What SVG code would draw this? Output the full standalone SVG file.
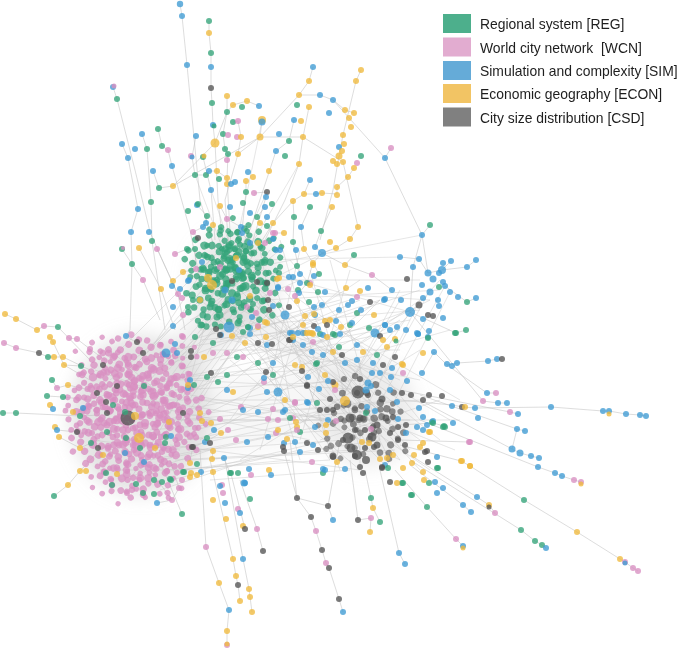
<svg xmlns="http://www.w3.org/2000/svg" xmlns:xlink="http://www.w3.org/1999/xlink" width="685" height="650" viewBox="0 0 685 650">
<style>
.e{fill:none;stroke:#c2c2c2;stroke-width:.7;stroke-opacity:.8}
.em{fill:none;stroke:#c4c4c4;stroke-width:.6;stroke-opacity:.7}
circle{stroke:none;fill-opacity:.78}
.g{fill:#34a47a}.p{fill:#d98fc2}.b{fill:#3f9bd3}.y{fill:#f0ba3e}.k{fill:#555}
.haze{fill:#c8c8c8}
.lt{font-family:"Liberation Sans",Arial,sans-serif;font-size:13.9px;fill:#1e1e1e}
</style>
<defs>
<filter id="soft" x="-50%" y="-50%" width="200%" height="200%"><feGaussianBlur stdDeviation="9"/></filter>
<g id="blob">
<circle cx="-25" cy="-5" r="3.6"/><circle cx="-20" cy="-15" r="3.2"/><circle cx="-18" cy="5" r="4.2"/><circle cx="-15" cy="-25" r="3.4"/>
<circle cx="-12" cy="15" r="3.8"/><circle cx="-10" cy="-8" r="3.2"/><circle cx="-8" cy="25" r="3.6"/><circle cx="-5" cy="-18" r="4"/>
<circle cx="-3" cy="5" r="3.4"/><circle cx="0" cy="-28" r="3.2"/><circle cx="2" cy="18" r="3.8"/><circle cx="4" cy="-6" r="3.5"/>
<circle cx="6" cy="28" r="3.2"/><circle cx="8" cy="-20" r="3.7"/><circle cx="10" cy="8" r="4.1"/><circle cx="12" cy="-12" r="3.3"/>
<circle cx="14" cy="20" r="3.5"/><circle cx="16" cy="-2" r="3.9"/><circle cx="18" cy="-24" r="3.2"/><circle cx="20" cy="12" r="3.6"/>
<circle cx="22" cy="-10" r="3.4"/><circle cx="24" cy="3" r="3.8"/><circle cx="26" cy="22" r="3.2"/><circle cx="-28" cy="10" r="3.5"/>
<circle cx="-22" cy="22" r="3.3"/><circle cx="-14" cy="-2" r="4"/><circle cx="-6" cy="-30" r="3.2"/><circle cx="0" cy="-10" r="3.6"/>
<circle cx="5" cy="10" r="3.4"/><circle cx="-2" cy="30" r="3.2"/><circle cx="28" cy="-15" r="3.4"/><circle cx="15" cy="30" r="3.3"/>
<circle cx="-26" cy="-20" r="3.2"/><circle cx="-16" cy="30" r="3.4"/><circle cx="9" cy="-30" r="3.3"/><circle cx="30" cy="5" r="3.5"/>
<circle cx="-30" cy="-8" r="3.2"/><circle cx="-4" cy="-12" r="3.8"/><circle cx="7" cy="0" r="3.6"/><circle cx="-9" cy="10" r="3.5"/>
</g>
<g id="sparse">
<circle cx="-25" cy="-5" r="3.6"/><circle cx="-18" cy="5" r="4.2"/><circle cx="-15" cy="-25" r="3.4"/><circle cx="-10" cy="-8" r="3.2"/>
<circle cx="-8" cy="25" r="3.6"/><circle cx="-3" cy="5" r="3.4"/><circle cx="2" cy="18" r="3.8"/><circle cx="8" cy="-20" r="3.7"/>
<circle cx="12" cy="-12" r="3.3"/><circle cx="16" cy="-2" r="3.9"/><circle cx="20" cy="12" r="3.6"/><circle cx="24" cy="3" r="3.8"/>
<circle cx="-28" cy="10" r="3.5"/><circle cx="-22" cy="22" r="3.3"/><circle cx="0" cy="-10" r="3.6"/><circle cx="28" cy="-15" r="3.4"/>
<circle cx="15" cy="30" r="3.3"/><circle cx="-26" cy="-20" r="3.2"/><circle cx="30" cy="5" r="3.5"/><circle cx="-9" cy="10" r="3.5"/>
</g>
</defs>

<g id="haze" filter="url(#soft)">
<ellipse class="haze" cx="140" cy="415" rx="70" ry="80" opacity=".5"/>
<ellipse class="haze" cx="235" cy="280" rx="45" ry="50" opacity=".4"/>
<ellipse class="haze" cx="368" cy="412" rx="48" ry="55" opacity=".35"/>
<path class="haze" d="M160 350 L215 300 L260 315 L200 380 Z" opacity=".35"/>
<path class="haze" d="M190 380 L330 370 L340 440 L195 460 Z" opacity=".15"/>
<path class="haze" d="M250 300 L350 360 L330 390 L240 330 Z" opacity=".22"/>
</g>

<g id="connectors">
<path class="e" d="M180 4 L182 16 L187 65 L200 200 L215 250 M209 21 L209 33 L211 53 L211 67 L211 88 L212 103 L213 125 L215 143 L218 200 L225 260
M113 87 L117 99 L135 170 L150 232 L180 300 M122 144 L128 158 L138 209 L131 232 L132 264 L130 330 M142 134 L147 149 L151 202 L152 241 L165 330
M158 129 L162 146 L168 150 L172 166 L190 230 L200 280 M153 171 L159 188 L173 186 L215 143 M173 186 L260 137 M259 106 L247 101 L233 105 L227 112 L215 143
M313 67 L309 81 L299 95 L260 137 M299 95 L320 95 L333 100 L345 110 L354 113 M333 100 L385 158 L422 235 M391 148 L385 158 M361 70 L356 81 L343 135 L339 156 L333 190 L320 240
M309 107 L303 137 L299 164 L285 200 L260 250 M294 120 L289 141 L276 151 L250 230 M262 121 L260 137 L238 154 L225 200 L230 260 M260 137 L303 137 L343 162 L358 227
M227 96 L227 112 L223 134 L225 149 L228 154 L227 178 L231 250 M233 122 L238 121 L241 137 L238 154 M196 136 L192 157 L195 175 L206 175 L209 171 L217 171 L227 178
M203 157 L211 190 L215 240 M246 181 L246 192 L240 250 M254 193 L267 192 L266 197 L250 250 M304 194 L316 194 L322 193 L337 194 L337 187 L348 177 L354 168
M310 180 L304 194 L293 201 L273 223 L250 260 M122 249 L132 264 L143 280 L160 320 M139 248 L161 289 L175 330 M157 249 L172 281 L178 294 L185 330
M175 254 L187 249 L195 249 L196 269 L183 272 L173 281 M197 205 L207 216 L206 223 L203 227 L193 232 L198 238 M220 206 L227 219 L241 227 L242 233 L250 243
M265 207 L257 217 L260 223 L267 226 L273 233 L284 233 M293 201 L294 217 L293 242 L300 274 M310 207 L301 227 L304 249 L313 263 L319 274
M332 207 L321 231 L315 247 L322 253 L336 248 L350 239 L358 227 M322 253 L345 265 L354 255 M322 253 L313 263 L307 283 L299 293 M345 265 L372 275 L392 290
M422 235 L430 225 M422 235 L413 267 L410 312 M422 235 L428 273 M400 257 L419 259 L428 273 L442 270 L451 261 M442 270 L467 267 L476 260
M445 286 L467 302 L476 298 M410 312 L456 333 L466 330 M422 373 L434 352 L447 365 L457 363 L488 361 L497 359 L502 359 M447 365 L487 393 L496 393
M410 312 L483 401 L498 403 L507 403 M400 400 L452 405 L463 407 L475 408 L551 407 L603 411 L609 411 L626 414 L640 415 L646 416 M400 390 L510 412 L518 414
M420 395 L517 429 L525 431 M517 429 L512 449 L520 453 L531 456 L539 458 M420 400 L512 449 M420 420 L538 467 L555 473 L562 476 L574 480 L581 482
M400 425 L433 423 L444 426 M400 440 L469 442 M400 445 L461 461 L470 466 L524 500 L577 532 L620 559 L625 562 L633 568 L638 571
M410 455 L477 497 L489 505 L495 513 M410 460 L521 530 L535 541 L542 545 L546 548 M410 465 L463 505 L471 512 M395 470 L427 507 L456 539 L463 546 M380 470 L399 553 L405 564
M200 450 L206 547 L219 583 L229 610 L227 631 L227 645 M210 460 L233 559 L236 576 L238 585 L240 601 M225 460 L243 559 L249 589 L250 597 L252 612 M230 470 L245 529
M240 480 L257 529 L263 551 M290 440 L297 498 L311 517 L316 531 L322 550 L326 563 L329 568 L339 599 L343 612 M340 440 L328 506 L333 520 M350 460 L358 520 L371 518 L370 532
M365 470 L371 498 L373 508 L380 522 M155 450 L182 514 M150 470 L172 500 L157 503 M170 460 L179 488 L172 500 M297 498 L328 506 M284 451 L297 498
M5 314 L16 319 L37 330 L44 326 L58 327 L90 360 M4 343 L16 348 L39 353 L48 357 L63 357 L90 370 M3 413 L16 413 L80 416 L100 415 M50 337 L53 342 L64 365 L90 380
M47 396 L63 397 L90 400 M55 427 L57 430 L77 432 L92 433 M54 496 L68 485 L80 471 L95 455 M69 338 L77 339 L90 349 L105 360 M52 380 L57 388 L68 385 L90 390
M59 437 L80 448 L91 443 L100 440 M81 366 L64 365 M130 330 L126 336 L137 343 M221 433 L205 442 L193 447 L190 460 M213 451 L212 459 L224 458 L230 473"/>
<path class="em" d="M150 380 L230 290 M160 370 L240 300 M170 390 L250 280 M140 360 L220 270 M175 360 L260 300 M180 400 L245 320 M165 420 L235 310 M190 380 L225 250
M150 350 L210 260 M185 350 L255 260 M130 370 L200 300 M195 410 L270 290 M160 440 L240 330 M175 430 L262 310 M145 395 L215 320 M120 350 L230 240 M110 380 L240 270
M190 360 L270 250 M200 390 L280 300 M140 420 L225 300 M160 400 L350 400 M170 420 L360 420 M180 440 L340 430 M190 380 L370 390 M175 460 L355 450 M150 430 L380 410
M185 410 L330 380 M195 450 L345 440 M165 470 L330 460 M190 395 L390 430 M180 420 L400 400 M170 445 L360 470 M160 380 L340 360 M195 430 L320 400 M185 470 L380 440
M175 390 L365 380 M190 460 L395 450 M150 460 L300 430 M200 420 L410 420 M170 410 L310 440 M180 380 L300 370 M190 440 L370 400 M160 460 L350 420 M200 400 L330 420
M190 390 L410 310 M180 370 L420 290 M195 420 L430 300 M170 380 L400 330 M240 300 L350 390 M250 320 L360 400 M230 310 L340 420 M260 290 L370 380 M270 300 L380 410
M250 280 L360 430 M220 320 L350 440 M265 315 L390 420 M245 295 L330 380 M235 330 L345 410 M275 280 L375 395 M255 305 L400 400 M240 280 L365 440 M225 300 L355 375
M250 280 L420 280 M260 270 L410 312 M270 290 L430 300 M255 260 L400 257 M265 300 L440 290 M240 270 L422 235 M360 390 L410 312 M370 400 L430 290 M380 380 L420 300
M350 380 L440 280 M390 410 L450 292 M340 400 L400 300 M370 420 L445 286 M210 260 L250 300 M220 250 L240 320 M200 280 L260 270 M230 245 L211 190 M225 255 L195 175
M240 250 L267 192 M245 255 L299 164 M235 250 L262 121 M200 340 L310 330 M210 320 L300 280 M180 330 L280 250 M190 320 L330 250 M220 340 L350 300 M260 340 L380 300
M280 330 L400 380 M300 300 L380 360 M170 480 L300 450 M160 490 L250 460 M120 480 L210 450 M100 470 L190 470 M90 440 L180 450 M85 400 L170 380 M95 370 L180 400
M110 350 L190 420 M100 390 L180 360 M130 480 L190 380 M310 360 L420 440 M300 380 L430 470 M280 400 L400 460 M330 350 L450 420 M340 330 L460 400 M350 350 L420 300
M380 350 L450 330 M290 330 L360 300 M300 340 L410 320 M260 360 L350 330 M270 380 L390 350 M200 300 L280 360 M210 300 L300 420 M250 340 L330 460 M230 360 L360 470
M200 330 L420 310 M210 350 L400 350 M220 360 L380 330 M190 340 L340 300 M230 340 L420 380 M240 350 L330 440 M260 330 L300 460 M280 310 L340 470 M300 320 L260 450
M320 300 L230 420 M340 290 L200 410 M360 280 L210 380 M380 300 L250 390 M400 320 L200 440 M420 350 L240 460 M300 290 L390 460 M310 270 L360 450 M270 270 L330 450
M290 260 L420 420 M330 260 L380 440 M350 270 L300 440 M280 240 L320 380 M260 250 L290 400 M300 250 L270 380 M380 300 L300 380 M400 290 L330 420 M170 350 L290 330
M180 360 L310 310 M150 400 L280 420 M160 420 L300 400 M170 450 L310 420 M180 470 L290 460 M200 470 L330 440 M210 480 L350 470 M300 360 L400 440 M320 340 L410 450
M330 370 L420 470 M310 390 L390 470 M340 360 L440 440 M350 420 L460 420 M320 440 L440 400 M330 400 L455 450 M360 360 L360 470 M340 380 L400 460 M300 410 L420 400"/>
</g>

<g id="cluster-wcn">
<use xlink:href="#blob" href="#blob" class="p" transform="translate(135,415)"/>
<use xlink:href="#blob" href="#blob" class="p" transform="translate(110,385) rotate(40)"/>
<use xlink:href="#blob" href="#blob" class="p" transform="translate(160,385) rotate(80)"/>
<use xlink:href="#blob" href="#blob" class="p" transform="translate(105,440) rotate(120)"/>
<use xlink:href="#blob" href="#blob" class="p" transform="translate(165,440) rotate(160)"/>
<use xlink:href="#blob" href="#blob" class="p" transform="translate(135,368) rotate(200)"/>
<use xlink:href="#blob" href="#blob" class="p" transform="translate(135,465) rotate(240)"/>
<use xlink:href="#blob" href="#blob" class="p" transform="translate(93,410) rotate(280) scale(.9)"/>
<use xlink:href="#blob" href="#blob" class="p" transform="translate(178,412) rotate(320) scale(.9)"/>
<use xlink:href="#sparse" href="#sparse" class="p" transform="translate(115,477) rotate(20) scale(.8)"/>
<use xlink:href="#sparse" href="#sparse" class="p" transform="translate(160,475) rotate(60) scale(.8)"/>
<use xlink:href="#sparse" href="#sparse" class="p" transform="translate(175,365) rotate(100) scale(.8)"/>
<use xlink:href="#sparse" href="#sparse" class="p" transform="translate(100,362) rotate(140) scale(.8)"/>
<circle class="k" cx="128" cy="418" r="7.5"/><circle class="g" cx="125" cy="412" r="3"/><circle class="y" cx="135" cy="416" r="4"/><circle class="y" cx="139" cy="438" r="5"/>
<circle class="g" cx="113" cy="405" r="3"/><circle class="k" cx="106" cy="402" r="3"/><circle class="k" cx="107" cy="413" r="3"/><circle class="k" cx="97" cy="393" r="3"/>
<circle class="k" cx="117" cy="386" r="3"/><circle class="k" cx="103" cy="365" r="3"/><circle class="k" cx="137" cy="342" r="3"/><circle class="k" cx="143" cy="353" r="3"/>
<circle class="g" cx="165" cy="443" r="3"/><circle class="g" cx="166" cy="437" r="3"/><circle class="b" cx="171" cy="436" r="3"/><circle class="y" cx="169" cy="422" r="3"/>
<circle class="b" cx="166" cy="353" r="4.5"/><circle class="b" cx="188" cy="388" r="3"/><circle class="b" cx="126" cy="336" r="3"/><circle class="g" cx="144" cy="386" r="3"/>
<circle class="b" cx="144" cy="462" r="3"/><circle class="g" cx="126" cy="438" r="3"/><circle class="y" cx="103" cy="455" r="3"/><circle class="k" cx="98" cy="448" r="3"/>
<circle class="g" cx="107" cy="432" r="3"/><circle class="g" cx="140" cy="448" r="3"/><circle class="y" cx="155" cy="448" r="3"/><circle class="b" cx="125" cy="453" r="3"/>
<circle class="k" cx="191" cy="351" r="3"/><circle class="k" cx="191" cy="357" r="3"/><circle class="b" cx="177" cy="353" r="3"/><circle class="b" cx="190" cy="380" r="3"/>
<circle class="y" cx="188" cy="385" r="3"/><circle class="g" cx="194" cy="385" r="3"/><circle class="k" cx="183" cy="413" r="3"/><circle class="y" cx="200" cy="413" r="3"/>
<circle class="y" cx="202" cy="421" r="3"/><circle class="p" cx="195" cy="428" r="3"/><circle class="k" cx="192" cy="447" r="3"/><circle class="b" cx="205" cy="442" r="3"/>
<circle class="g" cx="106" cy="473" r="3"/><circle class="y" cx="117" cy="474" r="3"/><circle class="g" cx="112" cy="485" r="3"/><circle class="p" cx="127" cy="493" r="3"/>
<circle class="g" cx="136" cy="484" r="3"/><circle class="g" cx="143" cy="493" r="3"/><circle class="g" cx="154" cy="494" r="3"/><circle class="g" cx="154" cy="480" r="3"/>
<circle class="g" cx="162" cy="482" r="3"/><circle class="g" cx="171" cy="480" r="3"/><circle class="g" cx="183" cy="472" r="3"/><circle class="y" cx="190" cy="477" r="3"/>
<circle class="b" cx="201" cy="472" r="3"/><circle class="y" cx="213" cy="472" r="3"/><circle class="g" cx="231" cy="473" r="3"/><circle class="p" cx="222" cy="485" r="3"/>
<circle class="b" cx="245" cy="483" r="3"/><circle class="y" cx="80" cy="471" r="3"/><circle class="y" cx="86" cy="471" r="3"/><circle class="y" cx="80" cy="448" r="3"/>
<circle class="g" cx="91" cy="443" r="3"/><circle class="p" cx="92" cy="433" r="3"/><circle class="k" cx="77" cy="432" r="3"/><circle class="g" cx="80" cy="416" r="3"/>
<circle class="y" cx="73" cy="412" r="3"/><circle class="b" cx="83" cy="408" r="3"/><circle class="g" cx="81" cy="366" r="3"/><circle class="p" cx="90" cy="349" r="3"/>
</g>

<g id="cluster-reg">
<use xlink:href="#blob" href="#blob" class="g" transform="translate(235,278) scale(1.05)"/>
<use xlink:href="#blob" href="#blob" class="g" transform="translate(217,258) rotate(60) scale(.95)"/>
<use xlink:href="#blob" href="#blob" class="g" transform="translate(254,258) rotate(120) scale(.9)"/>
<use xlink:href="#blob" href="#blob" class="g" transform="translate(215,298) rotate(180) scale(.95)"/>
<use xlink:href="#sparse" href="#sparse" class="g" transform="translate(252,298) rotate(240) scale(.9)"/>
<use xlink:href="#sparse" href="#sparse" class="g" transform="translate(232,245) rotate(300) scale(.85)"/>
<circle class="b" cx="229" cy="327" r="5.5"/><circle class="y" cx="212" cy="285" r="5"/><circle class="y" cx="208" cy="278" r="4"/><circle class="b" cx="225" cy="290" r="3.5"/>
<circle class="b" cx="232" cy="300" r="3.5"/><circle class="k" cx="232" cy="281" r="3"/><circle class="b" cx="239" cy="270" r="3"/><circle class="p" cx="220" cy="267" r="3"/>
<circle class="g" cx="227" cy="252" r="3"/><circle class="y" cx="236" cy="258" r="3"/><circle class="k" cx="257" cy="282" r="3"/><circle class="k" cx="267" cy="283" r="3"/>
<circle class="y" cx="250" cy="296" r="3"/><circle class="g" cx="253" cy="304" r="3"/><circle class="p" cx="247" cy="307" r="3"/><circle class="p" cx="256" cy="313" r="3"/>
<circle class="b" cx="252" cy="317" r="3"/><circle class="y" cx="265" cy="322" r="3"/><circle class="g" cx="238" cy="323" r="3.5"/><circle class="g" cx="217" cy="317" r="3.5"/>
<circle class="g" cx="203" cy="315" r="3.5"/><circle class="g" cx="201" cy="325" r="3.5"/><circle class="g" cx="210" cy="307" r="3.5"/><circle class="g" cx="193" cy="300" r="3"/>
<circle class="y" cx="200" cy="300" r="3"/><circle class="g" cx="188" cy="307" r="3"/><circle class="k" cx="216" cy="329" r="3"/><circle class="b" cx="221" cy="335" r="3"/>
<circle class="y" cx="232" cy="336" r="3"/><circle class="g" cx="195" cy="337" r="3"/><circle class="g" cx="213" cy="343" r="3"/><circle class="k" cx="258" cy="343" r="3"/>
<circle class="b" cx="250" cy="328" r="3"/><circle class="y" cx="258" cy="327" r="3"/><circle class="g" cx="243" cy="332" r="3"/><circle class="g" cx="248" cy="327" r="3"/>
<circle class="b" cx="250" cy="334" r="3"/><circle class="k" cx="220" cy="335" r="3"/><circle class="y" cx="245" cy="343" r="3"/><circle class="b" cx="267" cy="345" r="3"/>
<circle class="p" cx="258" cy="326" r="3"/><circle class="y" cx="267" cy="323" r="3"/><circle class="g" cx="202" cy="325" r="3"/><circle class="p" cx="182" cy="336" r="3"/>
<circle class="b" cx="202" cy="262" r="3"/><circle class="p" cx="196" cy="269" r="3"/><circle class="y" cx="183" cy="272" r="3"/><circle class="b" cx="189" cy="280" r="3"/>
<circle class="b" cx="180" cy="289" r="3"/><circle class="y" cx="173" cy="281" r="3"/><circle class="p" cx="182" cy="298" r="3"/><circle class="b" cx="173" cy="307" r="3"/>
<circle class="p" cx="183" cy="315" r="3"/><circle class="b" cx="173" cy="326" r="3"/><circle class="p" cx="183" cy="337" r="3"/><circle class="b" cx="175" cy="344" r="3"/>
<circle class="g" cx="187" cy="249" r="3"/><circle class="g" cx="195" cy="249" r="3"/><circle class="p" cx="175" cy="254" r="3"/><circle class="p" cx="193" cy="232" r="3"/>
<circle class="k" cx="198" cy="238" r="3"/><circle class="b" cx="203" cy="227" r="3"/><circle class="b" cx="206" cy="223" r="3"/><circle class="y" cx="213" cy="225" r="3"/>
<circle class="g" cx="207" cy="216" r="3"/><circle class="p" cx="227" cy="219" r="3"/><circle class="b" cx="241" cy="227" r="3"/><circle class="b" cx="242" cy="233" r="3"/>
<circle class="b" cx="250" cy="243" r="3"/><circle class="y" cx="258" cy="243" r="3"/><circle class="p" cx="265" cy="243" r="3"/><circle class="b" cx="273" cy="239" r="3"/>
<circle class="p" cx="273" cy="233" r="3"/><circle class="b" cx="250" cy="213" r="3"/><circle class="g" cx="257" cy="217" r="3"/><circle class="b" cx="267" cy="217" r="3"/>
<circle class="y" cx="260" cy="223" r="3"/><circle class="g" cx="267" cy="226" r="3"/><circle class="g" cx="188" cy="211" r="3"/><circle class="b" cx="197" cy="205" r="3"/>
<circle class="y" cx="220" cy="206" r="3"/><circle class="b" cx="230" cy="207" r="3"/><circle class="g" cx="243" cy="203" r="3"/><circle class="b" cx="265" cy="207" r="3"/>
<circle class="g" cx="272" cy="204" r="3"/><circle class="g" cx="198" cy="204" r="3"/><circle class="k" cx="268" cy="300" r="3"/><circle class="b" cx="273" cy="306" r="3"/>
<circle class="k" cx="269" cy="310" r="3"/><circle class="p" cx="270" cy="293" r="3"/><circle class="b" cx="278" cy="287" r="3"/><circle class="y" cx="277" cy="279" r="3"/>
<circle class="p" cx="288" cy="289" r="3"/><circle class="b" cx="293" cy="277" r="3"/><circle class="g" cx="297" cy="266" r="3"/><circle class="g" cx="298" cy="290" r="3"/>
<circle class="y" cx="297" cy="301" r="3"/><circle class="b" cx="300" cy="283" r="3"/><circle class="p" cx="310" cy="283" r="3"/><circle class="b" cx="314" cy="276" r="3"/>
<circle class="y" cx="313" cy="265" r="3"/><circle class="b" cx="315" cy="315" r="3"/>
</g>

<g id="cluster-csd">
<use xlink:href="#sparse" href="#sparse" class="k" transform="translate(365,402) rotate(10) scale(.95)" opacity=".85"/>
<use xlink:href="#sparse" href="#sparse" class="k" transform="translate(384,432) rotate(70) scale(.9)" opacity=".8"/>
<use xlink:href="#sparse" href="#sparse" class="k" transform="translate(346,432) rotate(130) scale(.85)" opacity=".75"/>
<circle class="k" cx="358" cy="392" r="6.5"/><circle class="y" cx="345" cy="401" r="5"/><circle class="k" cx="350" cy="418" r="4.5"/><circle class="k" cx="357" cy="455" r="5"/>
<circle class="k" cx="348" cy="438" r="5.5"/><circle class="k" cx="372" cy="437" r="4.5"/><circle class="k" cx="377" cy="445" r="3.5"/><circle class="k" cx="382" cy="399" r="3.5"/>
<circle class="b" cx="368" cy="383" r="3.5"/><circle class="b" cx="375" cy="333" r="4.5"/><circle class="b" cx="418" cy="334" r="3"/><circle class="b" cx="428" cy="337" r="3"/>
<circle class="g" cx="455" cy="333" r="3"/><circle class="y" cx="423" cy="353" r="3"/><circle class="b" cx="434" cy="352" r="3"/><circle class="b" cx="447" cy="364" r="3"/>
<circle class="b" cx="457" cy="363" r="3"/><circle class="b" cx="452" cy="366" r="3"/><circle class="k" cx="429" cy="395" r="3"/><circle class="b" cx="419" cy="408" r="3"/>
<circle class="k" cx="462" cy="407" r="3"/><circle class="y" cx="465" cy="407" r="3"/><circle class="b" cx="452" cy="406" r="3"/><circle class="p" cx="470" cy="442" r="3"/>
<circle class="y" cx="462" cy="461" r="3"/><circle class="y" cx="470" cy="466" r="3"/><circle class="b" cx="422" cy="373" r="3"/><circle class="b" cx="407" cy="381" r="3"/>
<circle class="k" cx="402" cy="393" r="3"/><circle class="k" cx="411" cy="395" r="3"/><circle class="b" cx="397" cy="402" r="3"/><circle class="b" cx="390" cy="390" r="3"/>
<circle class="y" cx="403" cy="365" r="3"/><circle class="p" cx="403" cy="373" r="3"/><circle class="k" cx="395" cy="357" r="3"/><circle class="b" cx="391" cy="377" r="3"/>
<circle class="b" cx="380" cy="373" r="3"/><circle class="k" cx="383" cy="365" r="3"/><circle class="b" cx="372" cy="373" r="3"/><circle class="k" cx="360" cy="379" r="3"/>
<circle class="b" cx="345" cy="363" r="3"/><circle class="k" cx="342" cy="355" r="3"/><circle class="y" cx="325" cy="375" r="3"/><circle class="y" cx="335" cy="385" r="3.5"/>
<circle class="k" cx="333" cy="382" r="3"/><circle class="p" cx="335" cy="390" r="3"/><circle class="b" cx="328" cy="381" r="3"/><circle class="b" cx="319" cy="389" r="3"/>
<circle class="k" cx="307" cy="386" r="3"/><circle class="g" cx="316" cy="364" r="3"/><circle class="y" cx="295" cy="365" r="3"/><circle class="y" cx="302" cy="367" r="3"/>
<circle class="k" cx="302" cy="371" r="3"/><circle class="b" cx="323" cy="355" r="3"/><circle class="b" cx="293" cy="340" r="3"/><circle class="y" cx="305" cy="333" r="3"/>
<circle class="y" cx="313" cy="334" r="3"/><circle class="k" cx="290" cy="340" r="3"/><circle class="g" cx="320" cy="334" r="3"/><circle class="g" cx="335" cy="335" r="3"/>
<circle class="b" cx="340" cy="334" r="3"/><circle class="g" cx="339" cy="347" r="3"/><circle class="y" cx="333" cy="352" r="3"/><circle class="b" cx="357" cy="345" r="3"/>
<circle class="y" cx="363" cy="352" r="3"/><circle class="g" cx="377" cy="355" r="3"/><circle class="b" cx="373" cy="363" r="3"/><circle class="b" cx="392" cy="368" r="3"/>
<circle class="y" cx="387" cy="347" r="3"/><circle class="b" cx="357" cy="360" r="3"/><circle class="k" cx="368" cy="395" r="3"/><circle class="b" cx="367" cy="407" r="3"/>
<circle class="b" cx="375" cy="411" r="3"/><circle class="g" cx="366" cy="413" r="3"/><circle class="k" cx="360" cy="418" r="3.5"/><circle class="k" cx="377" cy="425" r="3.5"/>
<circle class="k" cx="386" cy="418" r="3.5"/><circle class="k" cx="393" cy="417" r="3"/><circle class="b" cx="398" cy="419" r="3"/><circle class="k" cx="406" cy="425" r="3"/>
<circle class="b" cx="406" cy="433" r="3"/><circle class="k" cx="398" cy="427" r="3"/><circle class="k" cx="390" cy="433" r="3"/><circle class="p" cx="371" cy="429" r="3"/>
<circle class="k" cx="365" cy="430" r="3"/><circle class="k" cx="355" cy="430" r="3"/><circle class="y" cx="362" cy="442" r="3"/><circle class="y" cx="369" cy="443" r="3"/>
<circle class="k" cx="365" cy="448" r="3"/><circle class="k" cx="374" cy="447" r="3"/><circle class="y" cx="380" cy="459" r="3"/><circle class="k" cx="355" cy="456" r="3"/>
<circle class="k" cx="343" cy="440" r="3"/><circle class="y" cx="326" cy="433" r="3"/><circle class="b" cx="315" cy="427" r="3"/><circle class="k" cx="333" cy="456" r="3.5"/>
<circle class="y" cx="337" cy="462" r="3"/><circle class="b" cx="345" cy="469" r="3"/><circle class="g" cx="323" cy="473" r="3"/><circle class="b" cx="323" cy="469" r="3"/>
<circle class="k" cx="327" cy="410" r="3"/><circle class="k" cx="333" cy="410" r="3"/><circle class="k" cx="320" cy="410" r="3"/><circle class="b" cx="307" cy="402" r="3"/>
<circle class="g" cx="317" cy="403" r="3"/><circle class="k" cx="330" cy="399" r="3"/><circle class="b" cx="328" cy="420" r="3"/><circle class="p" cx="336" cy="421" r="3"/>
<circle class="y" cx="326" cy="425" r="3"/><circle class="b" cx="285" cy="410" r="3"/><circle class="p" cx="295" cy="403" r="3"/><circle class="g" cx="300" cy="432" r="3"/>
<circle class="b" cx="284" cy="443" r="3"/><circle class="y" cx="297" cy="427" r="3"/><circle class="p" cx="293" cy="418" r="3"/><circle class="b" cx="300" cy="452" r="3"/>
<circle class="p" cx="312" cy="462" r="3"/><circle class="k" cx="318" cy="450" r="3"/><circle class="b" cx="313" cy="445" r="3"/><circle class="k" cx="307" cy="443" r="3"/>
<circle class="k" cx="360" cy="467" r="3"/><circle class="b" cx="385" cy="465" r="3"/><circle class="y" cx="387" cy="458" r="3"/><circle class="k" cx="382" cy="467" r="3"/>
<circle class="g" cx="388" cy="468" r="3"/><circle class="y" cx="393" cy="455" r="3"/><circle class="k" cx="405" cy="445" r="3"/><circle class="k" cx="398" cy="440" r="3"/>
<circle class="y" cx="420" cy="447" r="3"/><circle class="k" cx="425" cy="452" r="3"/><circle class="k" cx="428" cy="462" r="3"/><circle class="y" cx="412" cy="463" r="3"/>
<circle class="b" cx="427" cy="425" r="3"/><circle class="b" cx="423" cy="430" r="3"/><circle class="y" cx="430" cy="432" r="3"/><circle class="b" cx="417" cy="427" r="3"/>
<circle class="g" cx="432" cy="422" r="3"/><circle class="b" cx="453" cy="423" r="3"/><circle class="b" cx="478" cy="418" r="3"/><circle class="g" cx="445" cy="427" r="3"/>
<circle class="b" cx="290" cy="333" r="3"/><circle class="k" cx="289" cy="340" r="3"/><circle class="b" cx="303" cy="333" r="3"/><circle class="b" cx="303" cy="345" r="3"/>
<circle class="b" cx="312" cy="352" r="3"/><circle class="k" cx="307" cy="385" r="3"/><circle class="b" cx="308" cy="377" r="3"/><circle class="g" cx="317" cy="363" r="3"/>
<circle class="b" cx="366" cy="390" r="3.5"/><circle class="b" cx="371" cy="386" r="3"/><circle class="k" cx="351" cy="448" r="4.5"/><circle class="k" cx="366" cy="460" r="4"/>
</g>

<g id="middle">
<circle class="p" cx="213" cy="353" r="3"/><circle class="y" cx="204" cy="357" r="3"/><circle class="p" cx="227" cy="353" r="3"/><circle class="p" cx="243" cy="357" r="3"/>
<circle class="g" cx="237" cy="357" r="3"/><circle class="g" cx="258" cy="363" r="3"/><circle class="b" cx="273" cy="363" r="3"/><circle class="k" cx="211" cy="373" r="3"/>
<circle class="k" cx="266" cy="372" r="3"/><circle class="g" cx="273" cy="375" r="3"/><circle class="p" cx="264" cy="382" r="3"/><circle class="b" cx="264" cy="378" r="3"/>
<circle class="g" cx="218" cy="382" r="3"/><circle class="g" cx="227" cy="375" r="3"/><circle class="b" cx="227" cy="390" r="3"/><circle class="y" cx="233" cy="392" r="3"/>
<circle class="b" cx="267" cy="392" r="3"/><circle class="b" cx="278" cy="392" r="4.5"/><circle class="g" cx="207" cy="377" r="3"/><circle class="y" cx="285" cy="400" r="3"/>
<circle class="p" cx="295" cy="402" r="3"/><circle class="b" cx="308" cy="403" r="3"/><circle class="p" cx="241" cy="407" r="3"/><circle class="b" cx="243" cy="410" r="3"/>
<circle class="b" cx="258" cy="412" r="3"/><circle class="p" cx="273" cy="409" r="3"/><circle class="b" cx="283" cy="412" r="3"/><circle class="p" cx="268" cy="419" r="3"/>
<circle class="g" cx="290" cy="418" r="3"/><circle class="p" cx="278" cy="420" r="3"/><circle class="y" cx="296" cy="422" r="3"/><circle class="p" cx="220" cy="419" r="3"/>
<circle class="y" cx="211" cy="423" r="3"/><circle class="b" cx="214" cy="430" r="3"/><circle class="p" cx="228" cy="430" r="3"/><circle class="y" cx="221" cy="433" r="3"/>
<circle class="g" cx="207" cy="438" r="3"/><circle class="k" cx="210" cy="443" r="3"/><circle class="b" cx="268" cy="437" r="3"/><circle class="p" cx="276" cy="433" r="3"/>
<circle class="y" cx="278" cy="430" r="3"/><circle class="y" cx="287" cy="439" r="3"/><circle class="k" cx="283" cy="447" r="3"/><circle class="p" cx="297" cy="430" r="3"/>
<circle class="b" cx="295" cy="442" r="3"/><circle class="p" cx="236" cy="440" r="3"/><circle class="b" cx="247" cy="442" r="3"/>
<circle class="y" cx="212" cy="459" r="3"/><circle class="y" cx="213" cy="451" r="3"/><circle class="k" cx="193" cy="447" r="3"/>
<circle class="b" cx="224" cy="458" r="3"/><circle class="g" cx="230" cy="473" r="3"/><circle class="g" cx="238" cy="473" r="3"/><circle class="b" cx="249" cy="469" r="3"/>
<circle class="p" cx="251" cy="475" r="3"/><circle class="y" cx="269" cy="470" r="3"/><circle class="b" cx="271" cy="475" r="3"/><circle class="k" cx="284" cy="451" r="3"/>
<circle class="b" cx="244" cy="483" r="3.5"/><circle class="g" cx="250" cy="499" r="3"/><circle class="p" cx="257" cy="529" r="3"/><circle class="k" cx="263" cy="551" r="3"/>
<circle class="b" cx="322" cy="253" r="4"/><circle class="y" cx="304" cy="249" r="3"/><circle class="b" cx="315" cy="247" r="3"/><circle class="y" cx="336" cy="248" r="3"/>
<circle class="b" cx="276" cy="250" r="3"/><circle class="b" cx="280" cy="250" r="3"/><circle class="g" cx="354" cy="255" r="3"/><circle class="y" cx="313" cy="263" r="3"/>
<circle class="y" cx="345" cy="265" r="3"/><circle class="g" cx="319" cy="274" r="3"/><circle class="b" cx="300" cy="274" r="3"/><circle class="g" cx="279" cy="273" r="3"/>
<circle class="b" cx="289" cy="277" r="3"/><circle class="y" cx="279" cy="278" r="3"/><circle class="g" cx="307" cy="283" r="3"/><circle class="y" cx="310" cy="285" r="3"/>
<circle class="p" cx="372" cy="275" r="3"/><circle class="b" cx="278" cy="288" r="3"/><circle class="b" cx="299" cy="293" r="3"/><circle class="p" cx="295" cy="296" r="3"/>
<circle class="g" cx="318" cy="292" r="3"/><circle class="b" cx="325" cy="292" r="3"/><circle class="y" cx="346" cy="288" r="3"/><circle class="y" cx="360" cy="291" r="3"/>
<circle class="b" cx="368" cy="288" r="3"/><circle class="p" cx="357" cy="297" r="3"/><circle class="b" cx="352" cy="301" r="3"/><circle class="k" cx="370" cy="302" r="3"/>
<circle class="b" cx="384" cy="300" r="3"/><circle class="g" cx="309" cy="302" r="3"/><circle class="b" cx="314" cy="307" r="3"/><circle class="b" cx="322" cy="305" r="3"/>
<circle class="b" cx="285" cy="315" r="4.5"/><circle class="k" cx="289" cy="307" r="3"/><circle class="y" cx="305" cy="316" r="3"/><circle class="y" cx="314" cy="314" r="3"/>
<circle class="b" cx="339" cy="310" r="3"/><circle class="b" cx="348" cy="305" r="3"/><circle class="g" cx="357" cy="313" r="3"/><circle class="b" cx="361" cy="310" r="3"/>
<circle class="y" cx="374" cy="315" r="3"/><circle class="y" cx="325" cy="321" r="3"/><circle class="y" cx="330" cy="320" r="3"/><circle class="b" cx="336" cy="321" r="3"/>
<circle class="y" cx="341" cy="327" r="3"/><circle class="g" cx="350" cy="325" r="3"/><circle class="b" cx="352" cy="323" r="3"/><circle class="y" cx="303" cy="325" r="3"/>
<circle class="k" cx="314" cy="326" r="3"/><circle class="b" cx="318" cy="329" r="3"/><circle class="k" cx="327" cy="325" r="3"/><circle class="b" cx="292" cy="333" r="3"/>
<circle class="y" cx="307" cy="333" r="3"/><circle class="y" cx="312" cy="333" r="3"/><circle class="b" cx="323" cy="335" r="3"/><circle class="y" cx="327" cy="337" r="3"/>
<circle class="g" cx="333" cy="334" r="3"/><circle class="g" cx="369" cy="328" r="3"/><circle class="k" cx="380" cy="336" r="3"/><circle class="b" cx="385" cy="325" r="3"/>
<circle class="b" cx="397" cy="327" r="3"/><circle class="b" cx="390" cy="330" r="3"/><circle class="b" cx="406" cy="330" r="3"/><circle class="b" cx="417" cy="333" r="3"/>
<circle class="y" cx="310" cy="333" r="3"/><circle class="y" cx="293" cy="337" r="3"/><circle class="b" cx="298" cy="333" r="3"/><circle class="y" cx="266" cy="337" r="3"/>
<circle class="k" cx="272" cy="344" r="3"/><circle class="p" cx="313" cy="342" r="3"/>
</g>

<g id="cluster-sim">
<circle class="g" cx="430" cy="225" r="3"/><circle class="b" cx="422" cy="235" r="3"/><circle class="b" cx="400" cy="257" r="3"/><circle class="b" cx="419" cy="259" r="3"/>
<circle class="b" cx="413" cy="267" r="3"/><circle class="b" cx="443" cy="263" r="3"/><circle class="b" cx="451" cy="261" r="3"/><circle class="b" cx="476" cy="260" r="3"/>
<circle class="b" cx="467" cy="267" r="3"/><circle class="b" cx="428" cy="273" r="3.5"/><circle class="b" cx="442" cy="270" r="4"/><circle class="b" cx="439" cy="273" r="3"/>
<circle class="k" cx="407" cy="279" r="3"/><circle class="b" cx="433" cy="279" r="3.5"/><circle class="b" cx="443" cy="282" r="3"/><circle class="b" cx="445" cy="286" r="3"/>
<circle class="g" cx="439" cy="287" r="3"/><circle class="b" cx="422" cy="285" r="3"/><circle class="b" cx="392" cy="290" r="3"/><circle class="b" cx="430" cy="292" r="3.5"/>
<circle class="b" cx="450" cy="292" r="3"/><circle class="b" cx="423" cy="298" r="3"/><circle class="b" cx="458" cy="297" r="3"/><circle class="g" cx="467" cy="302" r="3"/>
<circle class="b" cx="476" cy="298" r="3"/><circle class="b" cx="438" cy="300" r="3"/><circle class="k" cx="419" cy="305" r="3.5"/><circle class="b" cx="439" cy="306" r="3"/>
<circle class="b" cx="401" cy="300" r="3"/><circle class="b" cx="410" cy="312" r="5"/><circle class="k" cx="428" cy="315" r="3"/><circle class="k" cx="433" cy="316" r="3"/>
<circle class="b" cx="423" cy="319" r="3"/><circle class="b" cx="443" cy="318" r="3"/><circle class="b" cx="385" cy="299" r="3"/><circle class="b" cx="385" cy="325" r="3"/>
<circle class="b" cx="418" cy="334" r="3"/><circle class="b" cx="429" cy="331" r="3"/><circle class="g" cx="428" cy="338" r="3"/>
<circle class="g" cx="456" cy="333" r="3"/><circle class="g" cx="466" cy="330" r="3"/><circle class="y" cx="395" cy="339" r="3"/><circle class="g" cx="396" cy="341" r="2.5"/>
<circle class="y" cx="383" cy="340" r="3"/><circle class="b" cx="488" cy="361" r="3"/><circle class="b" cx="497" cy="359" r="3"/><circle class="k" cx="502" cy="359" r="3"/>
<circle class="y" cx="402" cy="364" r="3"/><circle class="b" cx="487" cy="393" r="3"/><circle class="p" cx="496" cy="393" r="3"/><circle class="p" cx="483" cy="401" r="3"/>
<circle class="b" cx="498" cy="403" r="3"/><circle class="b" cx="507" cy="403" r="3"/><circle class="k" cx="442" cy="396" r="3"/>
<circle class="k" cx="423" cy="400" r="3"/><circle class="b" cx="433" cy="421" r="3"/><circle class="g" cx="443" cy="427" r="3"/><circle class="b" cx="423" cy="417" r="3"/>
<circle class="b" cx="475" cy="408" r="3"/>
<circle class="b" cx="551" cy="407" r="3"/><circle class="b" cx="603" cy="411" r="3"/><circle class="b" cx="609" cy="411" r="3"/><circle class="y" cx="609" cy="414" r="2.5"/>
<circle class="b" cx="626" cy="414" r="3"/><circle class="b" cx="640" cy="415" r="3"/><circle class="b" cx="646" cy="416" r="3"/><circle class="p" cx="510" cy="412" r="3"/>
<circle class="b" cx="518" cy="414" r="3"/>
</g>

<g id="periphery-right">
<circle class="b" cx="517" cy="429" r="3"/><circle class="b" cx="525" cy="431" r="3"/><circle class="b" cx="512" cy="449" r="3.5"/><circle class="b" cx="520" cy="453" r="3.5"/>
<circle class="b" cx="531" cy="456" r="3"/><circle class="b" cx="539" cy="458" r="3"/><circle class="b" cx="538" cy="467" r="3"/><circle class="b" cx="555" cy="473" r="3"/>
<circle class="b" cx="562" cy="476" r="3"/><circle class="p" cx="574" cy="480" r="3"/><circle class="p" cx="581" cy="482" r="3"/><circle class="y" cx="581" cy="484" r="2.5"/>
<circle class="g" cx="433" cy="423" r="3"/><circle class="g" cx="444" cy="426" r="3"/><circle class="y" cx="429" cy="432" r="3"/><circle class="p" cx="469" cy="442" r="3"/>
<circle class="y" cx="461" cy="461" r="3"/><circle class="y" cx="470" cy="466" r="3"/><circle class="b" cx="437" cy="457" r="3"/><circle class="k" cx="427" cy="451" r="3"/>
<circle class="y" cx="423" cy="443" r="3"/><circle class="g" cx="438" cy="468" r="3"/><circle class="y" cx="423" cy="472" r="3"/><circle class="y" cx="414" cy="455" r="3"/>
<circle class="y" cx="403" cy="468" r="3"/><circle class="y" cx="424" cy="480" r="3"/><circle class="g" cx="429" cy="483" r="3"/><circle class="b" cx="435" cy="482" r="3"/>
<circle class="b" cx="443" cy="488" r="3"/><circle class="b" cx="437" cy="493" r="3"/><circle class="g" cx="412" cy="495" r="3"/><circle class="g" cx="402" cy="483" r="3"/>
<circle class="g" cx="524" cy="500" r="3"/><circle class="b" cx="477" cy="497" r="3"/><circle class="b" cx="463" cy="505" r="3"/><circle class="b" cx="471" cy="512" r="3"/>
<circle class="y" cx="489" cy="505" r="3"/><circle class="k" cx="489" cy="507" r="2.5"/><circle class="p" cx="495" cy="513" r="3"/><circle class="g" cx="427" cy="507" r="3"/>
<circle class="y" cx="577" cy="532" r="3"/><circle class="g" cx="521" cy="530" r="3"/><circle class="g" cx="535" cy="541" r="3"/><circle class="g" cx="542" cy="545" r="3"/>
<circle class="b" cx="546" cy="548" r="3"/><circle class="p" cx="456" cy="539" r="3"/><circle class="b" cx="463" cy="546" r="3"/><circle class="y" cx="463" cy="548" r="2.5"/>
<circle class="y" cx="620" cy="559" r="3"/><circle class="p" cx="625" cy="562" r="3"/><circle class="b" cx="625" cy="563" r="2.5"/><circle class="p" cx="633" cy="568" r="3"/>
<circle class="p" cx="638" cy="571" r="3"/><circle class="b" cx="405" cy="564" r="3"/><circle class="b" cx="399" cy="553" r="3"/>
<circle class="k" cx="363" cy="473" r="3"/><circle class="k" cx="382" cy="468" r="3"/><circle class="k" cx="390" cy="482" r="3"/><circle class="y" cx="397" cy="483" r="3"/>
<circle class="g" cx="403" cy="483" r="3"/><circle class="g" cx="411" cy="495" r="3"/><circle class="g" cx="437" cy="468" r="3"/>
</g>

<g id="periphery-bottom">
<circle class="g" cx="182" cy="514" r="3"/><circle class="b" cx="157" cy="503" r="3"/><circle class="p" cx="172" cy="500" r="3"/><circle class="p" cx="179" cy="488" r="3"/>
<circle class="g" cx="170" cy="479" r="3"/><circle class="p" cx="182" cy="480" r="3"/><circle class="g" cx="184" cy="472" r="3"/>
<circle class="y" cx="190" cy="463" r="3"/><circle class="g" cx="197" cy="464" r="3"/><circle class="y" cx="191" cy="473" r="3"/><circle class="y" cx="197" cy="475" r="3"/>
<circle class="p" cx="206" cy="547" r="3"/><circle class="y" cx="219" cy="583" r="3"/><circle class="b" cx="229" cy="610" r="3"/><circle class="y" cx="227" cy="631" r="3"/>
<circle class="p" cx="227" cy="645" r="3"/><circle class="y" cx="227" cy="644" r="2.5"/><circle class="y" cx="213" cy="500" r="3"/><circle class="b" cx="220" cy="486" r="3"/>
<circle class="p" cx="223" cy="493" r="3"/><circle class="b" cx="225" cy="503" r="3"/><circle class="p" cx="238" cy="509" r="3"/><circle class="b" cx="240" cy="513" r="3"/>
<circle class="y" cx="226" cy="519" r="3"/><circle class="y" cx="243" cy="526" r="3"/><circle class="k" cx="245" cy="529" r="3"/><circle class="y" cx="233" cy="559" r="3"/>
<circle class="b" cx="243" cy="559" r="3"/><circle class="y" cx="236" cy="576" r="3"/><circle class="k" cx="238" cy="585" r="3"/><circle class="y" cx="240" cy="601" r="3"/>
<circle class="y" cx="249" cy="589" r="3"/><circle class="y" cx="250" cy="597" r="3"/><circle class="y" cx="252" cy="612" r="3"/>
<circle class="k" cx="297" cy="498" r="3"/><circle class="k" cx="311" cy="517" r="3"/>
<circle class="p" cx="316" cy="531" r="3"/><circle class="k" cx="322" cy="550" r="3"/><circle class="p" cx="326" cy="563" r="3"/><circle class="k" cx="329" cy="568" r="3"/>
<circle class="k" cx="339" cy="599" r="3"/><circle class="b" cx="343" cy="612" r="3"/><circle class="k" cx="328" cy="506" r="3"/><circle class="b" cx="333" cy="520" r="3"/>
<circle class="b" cx="325" cy="470" r="3"/><circle class="k" cx="333" cy="457" r="3"/>
<circle class="k" cx="358" cy="520" r="3"/><circle class="p" cx="371" cy="518" r="3"/>
<circle class="y" cx="370" cy="532" r="3"/><circle class="g" cx="380" cy="522" r="3"/><circle class="g" cx="371" cy="498" r="3"/><circle class="y" cx="373" cy="508" r="3"/>
</g>

<g id="periphery-left">
<circle class="y" cx="5" cy="314" r="3"/><circle class="y" cx="16" cy="319" r="3"/><circle class="y" cx="37" cy="330" r="3"/><circle class="p" cx="44" cy="326" r="3"/>
<circle class="y" cx="50" cy="337" r="3"/><circle class="y" cx="53" cy="342" r="3"/><circle class="g" cx="58" cy="327" r="3"/><circle class="p" cx="69" cy="338" r="3"/>
<circle class="p" cx="77" cy="339" r="3"/><circle class="p" cx="4" cy="343" r="3"/><circle class="p" cx="16" cy="348" r="3"/><circle class="k" cx="39" cy="353" r="3"/>
<circle class="g" cx="48" cy="357" r="3"/><circle class="y" cx="54" cy="357" r="3"/><circle class="y" cx="63" cy="357" r="3"/><circle class="y" cx="64" cy="365" r="3"/>
<circle class="g" cx="52" cy="380" r="3"/><circle class="p" cx="57" cy="388" r="3"/><circle class="y" cx="68" cy="385" r="3"/><circle class="g" cx="47" cy="396" r="3"/>
<circle class="g" cx="63" cy="397" r="3"/><circle class="y" cx="50" cy="405" r="3"/><circle class="b" cx="53" cy="409" r="3"/><circle class="g" cx="3" cy="413" r="3"/>
<circle class="g" cx="16" cy="413" r="3"/><circle class="y" cx="55" cy="427" r="3"/><circle class="b" cx="57" cy="430" r="3"/><circle class="y" cx="59" cy="437" r="3"/>
<circle class="y" cx="68" cy="485" r="3"/><circle class="g" cx="54" cy="496" r="3"/>
</g>

<g id="periphery-top">
<circle class="b" cx="180" cy="4" r="3.2"/><circle class="b" cx="182" cy="16" r="3"/><circle class="b" cx="187" cy="65" r="3"/><circle class="g" cx="209" cy="21" r="3"/>
<circle class="y" cx="209" cy="33" r="3"/><circle class="g" cx="211" cy="53" r="3"/><circle class="b" cx="211" cy="67" r="3"/><circle class="k" cx="211" cy="88" r="3"/>
<circle class="g" cx="212" cy="103" r="3"/><circle class="b" cx="213" cy="125" r="3"/><circle class="g" cx="214" cy="126" r="2.5"/><circle class="y" cx="215" cy="143" r="4.5"/>
<circle class="b" cx="113" cy="87" r="3"/><circle class="p" cx="114" cy="86" r="2.5"/><circle class="g" cx="117" cy="99" r="3"/><circle class="b" cx="122" cy="144" r="3"/>
<circle class="b" cx="128" cy="158" r="3"/><circle class="b" cx="135" cy="149" r="3"/><circle class="b" cx="142" cy="134" r="3"/><circle class="g" cx="147" cy="149" r="3"/>
<circle class="g" cx="158" cy="129" r="3"/><circle class="g" cx="162" cy="146" r="3"/><circle class="p" cx="168" cy="150" r="3"/><circle class="b" cx="172" cy="166" r="3"/>
<circle class="b" cx="153" cy="171" r="3"/><circle class="g" cx="159" cy="188" r="3"/><circle class="y" cx="173" cy="186" r="3"/><circle class="p" cx="191" cy="156" r="3"/>
<circle class="b" cx="192" cy="157" r="2.5"/><circle class="g" cx="203" cy="157" r="3"/><circle class="y" cx="204" cy="156" r="2.5"/><circle class="b" cx="196" cy="136" r="3"/>
<circle class="g" cx="195" cy="175" r="3"/><circle class="g" cx="206" cy="175" r="3"/><circle class="b" cx="209" cy="171" r="3"/><circle class="y" cx="217" cy="171" r="3"/>
<circle class="y" cx="227" cy="96" r="3"/><circle class="g" cx="227" cy="112" r="3"/><circle class="y" cx="233" cy="105" r="3"/><circle class="y" cx="247" cy="101" r="3"/>
<circle class="g" cx="242" cy="107" r="3"/><circle class="b" cx="259" cy="106" r="3"/><circle class="g" cx="233" cy="122" r="3"/><circle class="p" cx="238" cy="121" r="3"/>
<circle class="g" cx="223" cy="134" r="3"/><circle class="p" cx="228" cy="135" r="3"/><circle class="p" cx="237" cy="137" r="3"/><circle class="y" cx="241" cy="137" r="3"/>
<circle class="g" cx="225" cy="149" r="3"/><circle class="g" cx="228" cy="154" r="3"/><circle class="p" cx="227" cy="160" r="3"/><circle class="y" cx="238" cy="154" r="3"/>
<circle class="y" cx="262" cy="120" r="4"/><circle class="b" cx="262" cy="122" r="3.5"/><circle class="y" cx="260" cy="137" r="3.5"/><circle class="b" cx="279" cy="134" r="3"/>
<circle class="g" cx="289" cy="141" r="3"/><circle class="b" cx="276" cy="151" r="3"/><circle class="g" cx="285" cy="156" r="3"/><circle class="y" cx="299" cy="164" r="3"/>
<circle class="y" cx="269" cy="171" r="3"/><circle class="y" cx="253" cy="177" r="3"/><circle class="b" cx="248" cy="172" r="3"/><circle class="y" cx="246" cy="181" r="3"/>
<circle class="b" cx="235" cy="182" r="3"/><circle class="y" cx="227" cy="178" r="3"/><circle class="g" cx="219" cy="179" r="3"/><circle class="y" cx="227" cy="184" r="3"/>
<circle class="b" cx="231" cy="184" r="3"/><circle class="b" cx="211" cy="190" r="3"/><circle class="g" cx="246" cy="192" r="3"/><circle class="p" cx="254" cy="193" r="3"/>
<circle class="k" cx="267" cy="192" r="3"/><circle class="b" cx="266" cy="197" r="3"/><circle class="b" cx="313" cy="67" r="3"/><circle class="y" cx="309" cy="81" r="3"/>
<circle class="y" cx="299" cy="95" r="3"/><circle class="b" cx="320" cy="95" r="3"/><circle class="b" cx="333" cy="100" r="3"/><circle class="y" cx="309" cy="107" r="3"/>
<circle class="g" cx="297" cy="105" r="3"/><circle class="b" cx="294" cy="120" r="3"/><circle class="y" cx="301" cy="121" r="3"/><circle class="b" cx="329" cy="113" r="3"/>
<circle class="y" cx="345" cy="110" r="3"/><circle class="y" cx="349" cy="118" r="3"/><circle class="y" cx="354" cy="113" r="3"/><circle class="y" cx="351" cy="127" r="3"/>
<circle class="y" cx="361" cy="70" r="3"/><circle class="y" cx="356" cy="81" r="3"/><circle class="y" cx="343" cy="135" r="3"/><circle class="y" cx="344" cy="144" r="3"/>
<circle class="b" cx="339" cy="147" r="3"/><circle class="y" cx="342" cy="151" r="3"/><circle class="y" cx="339" cy="156" r="3.5"/><circle class="y" cx="333" cy="161" r="3"/>
<circle class="y" cx="337" cy="164" r="3"/><circle class="y" cx="343" cy="162" r="3"/><circle class="p" cx="357" cy="163" r="3"/><circle class="g" cx="361" cy="156" r="3"/>
<circle class="y" cx="354" cy="168" r="3"/><circle class="y" cx="348" cy="177" r="3"/><circle class="y" cx="337" cy="187" r="3"/><circle class="y" cx="337" cy="195" r="3"/>
<circle class="y" cx="322" cy="193" r="3"/><circle class="b" cx="316" cy="194" r="3"/><circle class="b" cx="310" cy="180" r="3"/><circle class="y" cx="304" cy="194" r="3"/>
<circle class="y" cx="303" cy="137" r="3"/><circle class="p" cx="391" cy="148" r="3"/><circle class="b" cx="385" cy="158" r="3"/><circle class="g" cx="151" cy="202" r="3"/>
<circle class="b" cx="138" cy="209" r="3"/><circle class="b" cx="131" cy="232" r="3"/><circle class="b" cx="149" cy="232" r="3"/>
<circle class="g" cx="152" cy="241" r="3"/><circle class="g" cx="122" cy="249" r="3"/><circle class="p" cx="123" cy="248" r="2"/><circle class="y" cx="139" cy="248" r="3"/>
<circle class="p" cx="157" cy="249" r="3"/><circle class="g" cx="132" cy="264" r="3"/><circle class="p" cx="143" cy="280" r="3"/><circle class="y" cx="161" cy="289" r="3"/>
<circle class="b" cx="172" cy="286" r="3"/><circle class="b" cx="188" cy="281" r="3"/><circle class="p" cx="178" cy="294" r="3"/>
<circle class="y" cx="293" cy="201" r="3"/><circle class="g" cx="310" cy="207" r="3"/><circle class="y" cx="332" cy="207" r="3"/><circle class="y" cx="273" cy="223" r="3"/>
<circle class="y" cx="284" cy="233" r="3"/><circle class="p" cx="275" cy="233" r="3"/><circle class="b" cx="301" cy="227" r="3"/><circle class="g" cx="321" cy="231" r="3"/>
<circle class="y" cx="358" cy="227" r="3"/><circle class="y" cx="350" cy="239" r="3"/><circle class="y" cx="330" cy="242" r="3"/><circle class="g" cx="293" cy="242" r="3"/>
<circle class="g" cx="294" cy="217" r="3"/><circle class="b" cx="296" cy="250" r="3"/>
</g>

<g id="legend">
<rect x="443" y="14" width="28" height="19" fill="#4daf8c"/>
<rect x="443" y="37.5" width="28" height="19" fill="#e2acd0"/>
<rect x="443" y="61" width="28" height="19" fill="#65abd8"/>
<rect x="443" y="84" width="28" height="19" fill="#f2c464"/>
<rect x="443" y="107.5" width="28" height="19" fill="#808080"/>
<text class="lt" x="480" y="29">Regional system [REG]</text>
<text class="lt" x="480" y="52.5" xml:space="preserve">World city network  [WCN]</text>
<text class="lt" x="480" y="76">Simulation and complexity [SIM]</text>
<text class="lt" x="480" y="99">Economic geography [ECON]</text>
<text class="lt" x="480" y="122.5">City size distribution [CSD]</text>
</g>
</svg>
